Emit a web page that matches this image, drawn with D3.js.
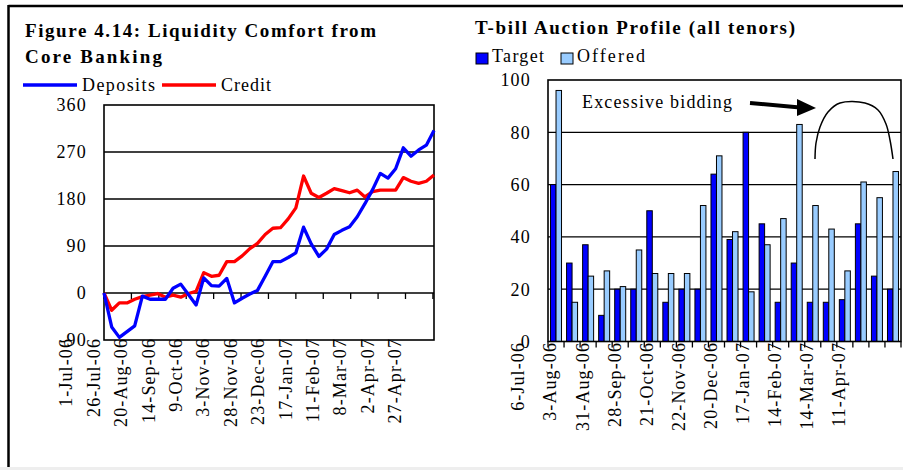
<!DOCTYPE html>
<html lang="en">
<head>
    <meta charset="UTF-8">
    <title>Liquidity and T-bill auctions</title>
    <script src="https://cdn.jsdelivr.net/npm/d3@7"></script>
    <style>
        body { margin: 0; background: #fff; }
        svg text { font-family: "Times New Roman", "Liberation Serif", serif; fill: #000; }
        .grid { stroke: #000; stroke-width: 1.3px; }
        .frame { fill: none; stroke: #000; stroke-width: 1.6px; }
    </style>
</head>
<body>
    <div id="chartArea"></div>
    <script>
        // ---- left chart: weekly change, Rs bn
        const weeks = ['1-Jul-06', '8-Jul-06', '15-Jul-06', '22-Jul-06', '29-Jul-06', '5-Aug-06', '12-Aug-06',
            '19-Aug-06', '26-Aug-06', '2-Sep-06', '9-Sep-06', '16-Sep-06', '23-Sep-06', '30-Sep-06',
            '7-Oct-06', '14-Oct-06', '21-Oct-06', '28-Oct-06', '4-Nov-06', '11-Nov-06', '18-Nov-06',
            '25-Nov-06', '2-Dec-06', '9-Dec-06', '16-Dec-06', '23-Dec-06', '30-Dec-06', '6-Jan-07',
            '13-Jan-07', '20-Jan-07', '27-Jan-07', '3-Feb-07', '10-Feb-07', '17-Feb-07', '24-Feb-07',
            '3-Mar-07', '10-Mar-07', '17-Mar-07', '24-Mar-07', '31-Mar-07', '7-Apr-07', '14-Apr-07',
            '21-Apr-07', '28-Apr-07'];
        const deposits = [0, -65, -85, -74, -63, -6, -12, -12, -12, 9, 17, -3, -23, 29, 14, 13, 28, -19,
            -10, -2, 5, 32, 60, 60, 68, 77, 126, 94, 70, 84, 112, 120, 127, 146, 171, 198, 229, 220, 238,
            278, 262, 274, 283, 311];
        const credit = [0, -33, -19, -19, -12, -7, -4, -1, -8, -4, -8, -1, 3, 39, 32, 34, 60, 60, 71, 85,
            95, 112, 124, 125, 142, 163, 224, 191, 183, 191, 200, 196, 192, 197, 184, 194, 197, 197, 197,
            221, 214, 210, 214, 226];
        const leftTicks = ['1-Jul-06', '26-Jul-06', '20-Aug-06', '14-Sep-06', '9-Oct-06', '3-Nov-06',
            '28-Nov-06', '23-Dec-06', '17-Jan-07', '11-Feb-07', '8-Mar-07', '2-Apr-07', '27-Apr-07'];
        const leftY = [-90, 0, 90, 180, 270, 360];

        // ---- right chart: auctions, Rs bn
        const auctions = ['6-Jul-06', '20-Jul-06', '3-Aug-06', '17-Aug-06', '31-Aug-06', '14-Sep-06',
            '28-Sep-06', '11-Oct-06', '21-Oct-06', '8-Nov-06', '22-Nov-06', '6-Dec-06', '20-Dec-06',
            '3-Jan-07', '17-Jan-07', '31-Jan-07', '14-Feb-07', '28-Feb-07', '14-Mar-07', '28-Mar-07',
            '11-Apr-07', '25-Apr-07'];
        const target = [60, 30, 37, 10, 20, 20, 50, 15, 20, 20, 64, 39, 80, 45, 15, 30, 15, 15, 16, 45, 25, 20];
        const offered = [96, 15, 25, 27, 21, 35, 26, 26, 26, 52, 71, 42, 19, 37, 47, 83, 52, 43, 27, 61, 55, 65];
        const rightY = [0, 20, 40, 60, 80, 100];

        const parse = d3.timeParse('%d-%b-%y');
        const labelShift = -38; // excel drew the rotated labels off to the left

        const svg = d3.select('#chartArea').append('svg')
            .attr('width', 903)
            .attr('height', 470);

        // outer box
        svg.append('rect').attr('x', 0).attr('y', 467).attr('width', 903).attr('height', 3).attr('fill', '#eeeeee');
        svg.append('line').attr('x1', 8.5).attr('x2', 903).attr('y1', 6).attr('y2', 6)
            .attr('stroke', '#000').attr('stroke-width', 2.5);
        svg.append('line').attr('x1', 8.5).attr('x2', 8.5).attr('y1', 5).attr('y2', 467)
            .attr('stroke', '#000').attr('stroke-width', 2.5);

        // ================= left chart =================
        const L = { left: 104, right: 434, top: 105, bottom: 340 };
        const dates = weeks.map(parse);
        const x = d3.scaleTime().domain(d3.extent(dates)).range([L.left, L.right]);
        const y = d3.scaleLinear().domain([-90, 360]).range([L.bottom, L.top]);

        svg.append('text').attr('x', 25).attr('y', 37)
            .attr('font-size', 19).attr('font-weight', 'bold')
            .attr('textLength', 351).attr('lengthAdjust', 'spacing')
            .text('Figure 4.14: Liquidity Comfort from');
        svg.append('text').attr('x', 25).attr('y', 63)
            .attr('font-size', 19).attr('font-weight', 'bold')
            .attr('textLength', 137).attr('lengthAdjust', 'spacing')
            .text('Core Banking');

        const legL = [
            { name: 'Deposits', color: '#0000ff', x: 23, len: 73 },
            { name: 'Credit', color: '#ff0000', x: 162, len: 50 }
        ];
        legL.forEach(d => {
            svg.append('line').attr('x1', d.x).attr('x2', d.x + 54).attr('y1', 85).attr('y2', 85)
                .attr('stroke', d.color).attr('stroke-width', 3.5);
            svg.append('text').attr('x', d.x + 59).attr('y', 91).attr('font-size', 18)
                .attr('textLength', d.len).attr('lengthAdjust', 'spacing').text(d.name);
        });

        svg.selectAll('.lgrid').data(leftY.filter(v => v > -90 && v < 360)).enter()
            .append('line').attr('class', 'grid')
            .attr('x1', L.left).attr('x2', L.right)
            .attr('y1', d => y(d)).attr('y2', d => y(d));

        svg.append('rect').attr('class', 'frame')
            .attr('x', L.left).attr('y', L.top)
            .attr('width', L.right - L.left).attr('height', L.bottom - L.top);

        // y labels
        svg.selectAll('.lyl').data(leftY).enter().append('text')
            .attr('x', 87).attr('y', d => y(d)).attr('dy', '0.35em')
            .attr('text-anchor', 'end').attr('font-size', 18).attr('letter-spacing', 1.2)
            .text(d => d);

        // ticks on the zero line
        const tickDates = leftTicks.map(parse);
        svg.selectAll('.ltick').data(tickDates).enter().append('line')
            .attr('x1', d => x(d)).attr('x2', d => x(d))
            .attr('y1', y(0)).attr('y2', y(0) + 6)
            .attr('stroke', '#000').attr('stroke-width', 1.3);

        svg.selectAll('.lxl').data(leftTicks).enter().append('text')
            .attr('transform', d => `translate(${x(parse(d)) + labelShift},338) rotate(-90)`)
            .attr('dy', '0.35em').attr('text-anchor', 'end')
            .attr('font-size', 18).attr('letter-spacing', 1.1)
            .text(d => d);

        const line = d3.line().x((d, i) => x(dates[i])).y(d => y(d));
        [[credit, '#ff0000'], [deposits, '#0000ff']].forEach(([s, c]) => {
            svg.append('path').datum(s)
                .attr('d', line)
                .attr('fill', 'none').attr('stroke', c)
                .attr('stroke-width', 3.3).attr('stroke-linejoin', 'round');
        });

        // ================= right chart =================
        const R = { left: 548, right: 901, top: 80, bottom: 341.5 };
        const xb = d3.scaleBand().domain(auctions).range([R.left, R.right]);
        const yr = d3.scaleLinear().domain([0, 100]).range([R.bottom, R.top]);
        const bw = 5.5;

        svg.append('text').attr('x', 475).attr('y', 34)
            .attr('font-size', 19).attr('font-weight', 'bold')
            .attr('textLength', 320).attr('lengthAdjust', 'spacing')
            .text('T-bill Auction Profile (all tenors)');

        const legR = [
            { name: 'Target', color: '#0000ff', x: 476, len: 52 },
            { name: 'Offered', color: '#99ccff', x: 561, len: 68 }
        ];
        legR.forEach(d => {
            svg.append('rect').attr('x', d.x).attr('y', 53).attr('width', 12).attr('height', 11)
                .attr('fill', d.color).attr('stroke', '#000').attr('stroke-width', 1);
            svg.append('text').attr('x', d.x + 16).attr('y', 62).attr('font-size', 18)
                .attr('textLength', d.len).attr('lengthAdjust', 'spacing').text(d.name);
        });

        svg.selectAll('.rgrid').data(rightY.filter(v => v > 0 && v < 100)).enter()
            .append('line').attr('class', 'grid')
            .attr('x1', R.left).attr('x2', R.right)
            .attr('y1', d => yr(d)).attr('y2', d => yr(d));

        svg.selectAll('.ryl').data(rightY).enter().append('text')
            .attr('x', 531).attr('y', d => yr(d)).attr('dy', '0.35em')
            .attr('text-anchor', 'end').attr('font-size', 18).attr('letter-spacing', 1.2)
            .text(d => d);

        const mid = d => xb(d) + xb.bandwidth() / 2;
        svg.selectAll('.tbar').data(auctions).enter().append('rect')
            .attr('x', d => mid(d) - bw).attr('y', (d, i) => yr(target[i]))
            .attr('width', bw).attr('height', (d, i) => yr(0) - yr(target[i]))
            .attr('fill', '#0000ff').attr('stroke', '#000').attr('stroke-width', 1);
        svg.selectAll('.obar').data(auctions).enter().append('rect')
            .attr('x', d => mid(d)).attr('y', (d, i) => yr(offered[i]))
            .attr('width', bw).attr('height', (d, i) => yr(0) - yr(offered[i]))
            .attr('fill', '#99ccff').attr('stroke', '#000').attr('stroke-width', 1);

        svg.append('rect').attr('class', 'frame')
            .attr('x', R.left).attr('y', R.top)
            .attr('width', R.right - R.left).attr('height', R.bottom - R.top);

        svg.selectAll('.rtick').data(auctions.concat([null])).enter().append('line')
            .attr('x1', d => d ? xb(d) : R.right).attr('x2', d => d ? xb(d) : R.right)
            .attr('y1', R.bottom).attr('y2', R.bottom + 6)
            .attr('stroke', '#000').attr('stroke-width', 1.3);

        svg.selectAll('.rxl').data(auctions.filter((d, i) => i % 2 === 0)).enter().append('text')
            .attr('transform', d => `translate(${mid(d) + labelShift},342) rotate(-90)`)
            .attr('dy', '0.35em').attr('text-anchor', 'end')
            .attr('font-size', 18).attr('letter-spacing', 1.1)
            .text(d => d);

        // annotation
        svg.append('text').attr('x', 582).attr('y', 108).attr('font-size', 18)
            .attr('textLength', 150).attr('lengthAdjust', 'spacing')
            .text('Excessive bidding');
        svg.append('line').attr('x1', 750).attr('y1', 103).attr('x2', 800).attr('y2', 107.5)
            .attr('stroke', '#000').attr('stroke-width', 4);
        svg.append('path').attr('d', 'M797,99 L816,108 L797,116 Z').attr('fill', '#000');

        const arch = [[815, 159], [816, 143], [820, 127], [828, 112], [840, 103], [865, 103],
            [878, 110], [886, 124], [890, 140], [893, 159]];
        svg.append('path').datum(arch)
            .attr('d', d3.line().curve(d3.curveCatmullRom))
            .attr('fill', 'none').attr('stroke', '#000').attr('stroke-width', 1.5);
    </script>
</body>
</html>
